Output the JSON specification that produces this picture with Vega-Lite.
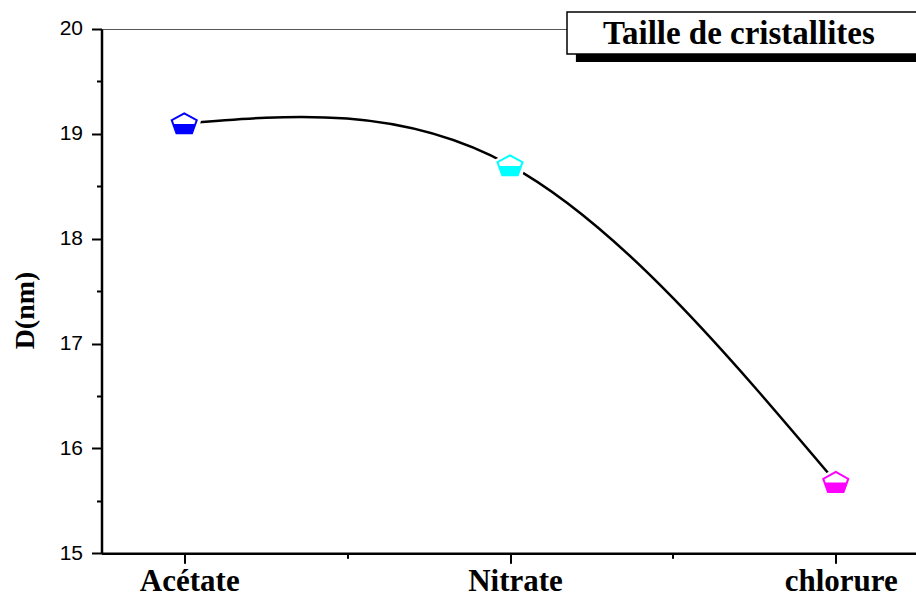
{
  "$schema": "https://vega.github.io/schema/vega-lite/v6.json",
  "width": 817,
  "height": 524.3,
  "autosize": "none",
  "padding": {"left": 101.5, "top": 29, "right": 0, "bottom": 40},
  "background": "white",
  "config": {
    "view": {"stroke": "#555555", "strokeWidth": 1}
  },
  "datasets": {
    "taille": [
      {"precurseur": "Acétate", "rang": 1, "D": 19.1},
      {"precurseur": "Nitrate", "rang": 2, "D": 18.7},
      {"precurseur": "chlorure", "rang": 3, "D": 15.68}
    ],
    "legende": [
      {"titre": "Taille de cristallites"}
    ]
  },
  "layer": [
    {
      "data": {"name": "taille"},
      "encoding": {
        "x": {
          "field": "rang",
          "type": "quantitative",
          "scale": {"domain": [0.746, 3.254], "nice": false, "zero": false},
          "axis": {
            "values": [1, 1.5, 2, 2.5, 3],
            "labelExpr": "datum.value == 1 ? 'Acétate' : datum.value == 2 ? 'Nitrate' : datum.value == 3 ? 'chlorure' : ''",
            "title": null,
            "grid": false,
            "domainColor": "black",
            "domainWidth": 2.5,
            "tickColor": "black",
            "tickWidth": 2,
            "tickSize": {"condition": {"test": "datum.value % 1 != 0", "value": 5}, "value": 10},
            "labelFont": "Liberation Serif",
            "labelFontWeight": "bold",
            "labelFontSize": 31,
            "labelColor": "black",
            "labelPadding": 3,
            "labelOffset": 5,
            "labelFlush": false,
            "labelOverlap": false
          }
        },
        "y": {
          "field": "D",
          "type": "quantitative",
          "scale": {"domain": [15, 20], "nice": false, "zero": false},
          "axis": {
            "values": [15, 15.5, 16, 16.5, 17, 17.5, 18, 18.5, 19, 19.5, 20],
            "labelExpr": "datum.value % 1 == 0 ? format(datum.value, 'd') : ''",
            "grid": false,
            "domainColor": "black",
            "domainWidth": 2.5,
            "tickColor": "black",
            "tickWidth": 2,
            "tickSize": {"condition": {"test": "datum.value % 1 != 0", "value": 5}, "value": 10},
            "labelFont": "Liberation Sans",
            "labelFontSize": 21,
            "labelColor": "black",
            "labelPadding": 9,
            "labelOverlap": false,
            "title": "D(nm)",
            "titleFont": "Liberation Serif",
            "titleFontWeight": "bold",
            "titleFontSize": 28,
            "titleColor": "black",
            "titleAngle": 270,
            "titleAlign": "center",
            "titleBaseline": "middle",
            "titleX": -76,
            "titleY": 281
          }
        }
      },
      "layer": [
        {
          "mark": {"type": "line", "interpolate": "natural", "color": "black", "strokeWidth": 2.5}
        },
        {
          "mark": {
            "type": "point",
            "shape": "M0,-0.8L1,-0.25L0.62,0.8L-0.62,0.8L-1,-0.25Z",
            "filled": true,
            "fill": "white",
            "opacity": 1,
            "size": 1225
          }
        },
        {
          "mark": {
            "type": "point",
            "shape": "M0,-0.8L1,-0.25L0.62,0.8L-0.62,0.8L-1,-0.25Z",
            "filled": true,
            "fill": "white",
            "opacity": 1,
            "strokeOpacity": 1,
            "strokeWidth": 2,
            "size": 625
          },
          "encoding": {
            "stroke": {
              "field": "precurseur",
              "type": "nominal",
              "scale": {"domain": ["Acétate", "Nitrate", "chlorure"], "range": ["#0000ff", "#00ffff", "#ff00ff"]},
              "legend": null
            }
          }
        },
        {
          "mark": {
            "type": "point",
            "shape": "M-0.89,0.05L0.89,0.05L0.62,0.8L-0.62,0.8Z",
            "filled": true,
            "opacity": 1,
            "strokeWidth": 0,
            "size": 625
          },
          "encoding": {
            "fill": {
              "field": "precurseur",
              "type": "nominal",
              "scale": {"domain": ["Acétate", "Nitrate", "chlorure"], "range": ["#0000ff", "#00ffff", "#ff00ff"]},
              "legend": null
            }
          }
        }
      ]
    },
    {
      "data": {"name": "legende"},
      "encoding": {
        "x": {"datum": 2.2023, "type": "quantitative"},
        "x2": {"datum": 3.32},
        "y": {"datum": 20.086, "type": "quantitative"},
        "y2": {"datum": 19.685}
      },
      "mark": {"type": "rect", "fill": "black", "opacity": 1}
    },
    {
      "data": {"name": "legende"},
      "encoding": {
        "x": {"datum": 2.175, "type": "quantitative"},
        "x2": {"datum": 3.293},
        "y": {"datum": 20.162, "type": "quantitative"},
        "y2": {"datum": 19.762}
      },
      "mark": {"type": "rect", "fill": "white", "stroke": "black", "strokeWidth": 1.5, "opacity": 1}
    },
    {
      "data": {"name": "legende"},
      "encoding": {
        "x": {"datum": 2.2855, "type": "quantitative"},
        "y": {"datum": 19.855, "type": "quantitative"},
        "text": {"field": "titre"}
      },
      "mark": {
        "type": "text",
        "align": "left",
        "baseline": "alphabetic",
        "font": "Liberation Serif",
        "fontWeight": "bold",
        "fontSize": 33,
        "fill": "black"
      }
    }
  ]
}
